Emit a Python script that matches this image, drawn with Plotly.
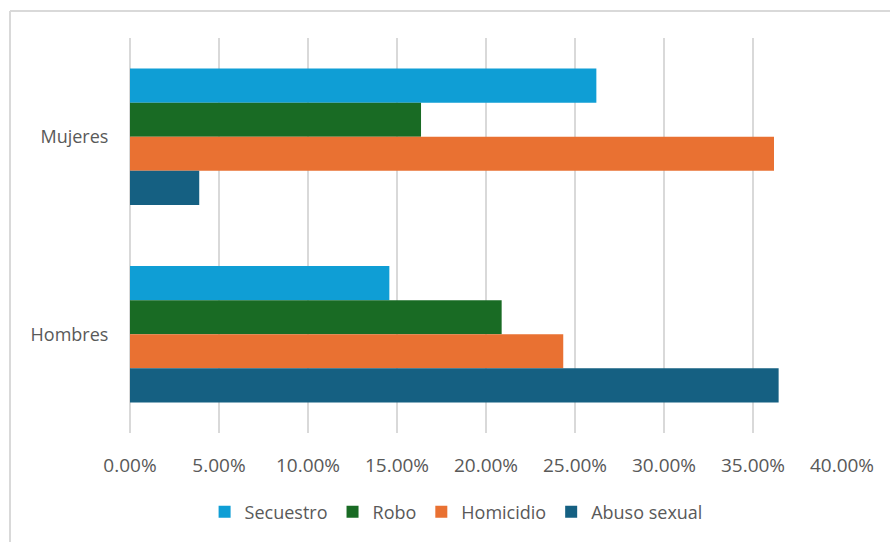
import plotly.graph_objects as go

categories = ["Mujeres", "Hombres"]
series_names = ["Secuestro", "Robo", "Homicidio", "Abuso sexual"]
secuestro = [0.262, 0.1457]
robo = [0.1635, 0.2088]
homicidio = [0.3618, 0.2434]
abuso_sexual = [0.0389, 0.3644]
tick_vals = [0, 0.05, 0.10, 0.15, 0.20, 0.25, 0.30, 0.35, 0.40]
tick_text = ["0.00%", "5.00%", "10.00%", "15.00%", "20.00%", "25.00%", "30.00%", "35.00%", "40.00%"]

colors = ["#0F9ED5", "#196B24", "#E97132", "#156082"]
values = [secuestro, robo, homicidio, abuso_sexual]

fig = go.Figure()
for name, vals, col in zip(series_names, values, colors):
    fig.add_trace(go.Bar(
        y=categories, x=vals, name=name, orientation="h",
        marker=dict(color=col, line=dict(width=0)),
    ))

FONT = "Open Sans"
GREY = "#595959"
W, H = 890, 542
L, R, T, B = 130, 48, 38, 109
pw = W - L - R
ph = H - T - B

fig.update_layout(
    width=W, height=H,
    margin=dict(l=L, r=R, t=T, b=B),
    paper_bgcolor="white", plot_bgcolor="white",
    barmode="group", bargap=0.31, bargroupgap=0,
    font=dict(family=FONT, size=18, color=GREY),
    showlegend=True,
    legend=dict(
        orientation="h", x=0.458, xanchor="center",
        y=(T + ph - 512) / ph, yanchor="middle",
        font=dict(family=FONT, size=18, color=GREY),
        itemwidth=30, tracegroupgap=0,
    ),
    xaxis=dict(
        range=[0, 0.40], tickvals=tick_vals, ticktext=tick_text,
        showgrid=True, gridcolor="#D9D9D9", gridwidth=2,
        zeroline=True, zerolinecolor="#D9D9D9", zerolinewidth=2,
        showline=False,
        ticks="outside", ticklen=15, tickcolor="rgba(0,0,0,0)",
        tickfont=dict(family=FONT, size=19, color=GREY),
        fixedrange=True,
    ),
    yaxis=dict(
        categoryorder="array", categoryarray=categories,
        autorange="reversed",
        showgrid=False, zeroline=False, showline=False,
        ticks="outside", ticklen=17, tickcolor="rgba(0,0,0,0)",
        tickfont=dict(family=FONT, size=18, color=GREY),
        fixedrange=True,
    ),
    shapes=[
        dict(type="line", xref="paper", yref="paper",
             x0=(10 - L) / pw, x1=(W + 10 - L) / pw,
             y0=1 + (T - 11) / ph, y1=1 + (T - 11) / ph,
             line=dict(color="#D9D9D9", width=2)),
        dict(type="line", xref="paper", yref="paper",
             x0=(10 - L) / pw, x1=(10 - L) / pw,
             y0=1 + (T - 11) / ph, y1=-(H - T - ph + 10) / ph,
             line=dict(color="#D9D9D9", width=2)),
    ],
)

fig.write_html("out.html")
